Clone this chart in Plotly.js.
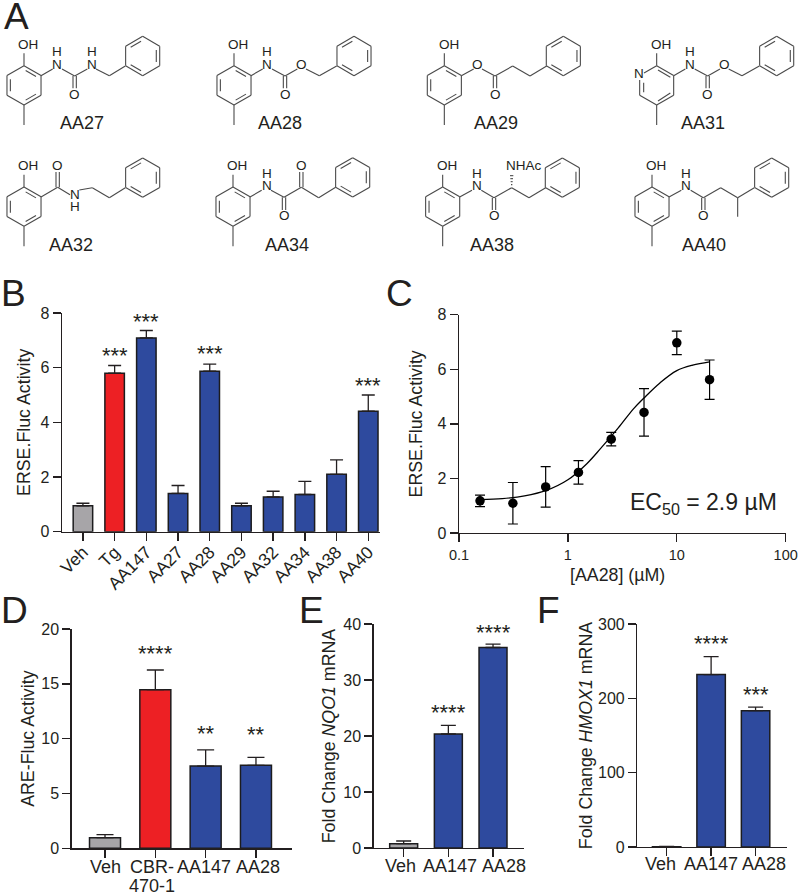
<!DOCTYPE html>
<html><head><meta charset="utf-8">
<script src="https://cdn.plot.ly/plotly-3.0.1.min.js"></script>
<style>html,body{margin:0;padding:0;background:#fff}</style>
</head><body><div id="chart" style="width:800px;height:896px"></div>
<script>
// ---------- chart data ----------
const bCategories = ['Veh','Tg','AA147','AA27','AA28','AA29','AA32','AA34','AA38','AA40'];
const bValues = [0.95,5.8,7.09,1.4,5.87,0.95,1.27,1.36,2.1,4.41];
const bErrors = [0.09,0.28,0.27,0.29,0.26,0.09,0.21,0.48,0.53,0.59];
const bStars = [[1,'***',6.54],[2,'***',7.81],[4,'***',6.62],[9,'***',5.46]];

const cConc = [0.156,0.3125,0.625,1.25,2.5,5,10,20];
const cValues = [1.18,1.09,1.69,2.22,3.44,4.42,6.97,5.62];
const cErrors = [0.21,0.76,0.74,0.43,0.25,0.87,0.43,0.72];
const cFitConc = [0.156,0.25,0.4,0.625,1,1.5,2,2.9,4,5,7,10,14,20];
const cFitValues = [1.22,1.26,1.36,1.55,1.95,2.55,3.1,3.85,4.55,4.95,5.5,5.95,6.15,6.27];

const dCategories = ['Veh','CBR-470-1','AA147','AA28'];
const dLabels = ['Veh','CBR-','AA147','AA28'];
const dLabelOffsets = [0,-3.7,-1.7,1.7];
const dValues = [0.97,14.47,7.5,7.57];
const dErrors = [0.28,1.79,1.47,0.73];
const dStars = [[1,'****',18.0],[2,'**',10.73],[3,'**',10.64]];

const eCategories = ['Veh','AA147','AA28'];
const eValues = [0.77,20.36,35.8];
const eErrors = [0.48,1.54,0.6];
const eStars = [[1,'****',24.76],[2,'****',39.1]];
const eLabelOffsets = [-3,1.7,11];

const fCategories = ['Veh','AA147','AA28'];
const fValues = [0.5,232,183.4];
const fErrors = [0.4,24,4.9];
const fStars = [[1,'****',278],[2,'***',209]];
const fLabelOffsets = [-5.7,0,8.3];

const GRAY='#a7a5a8', RED='#ed2024', BLUE='#2e4a9e', INK='#231f20';
const FONT='"Liberation Sans", Arial, sans-serif';
const W=800, H=896;
const fx=p=>p/W, fy=p=>1-p/H;

// ---------- chemical structures (drawing units: 3 per pixel, local to each molecule) ----------
const atoms27=[['N',172,193],['H',172,155],['O',224,282],['N',275,193],['H',275,155]];
const bonds27=[[123,227,158,207],[186,207,224,228],[219,228,219,265],[229,228,229,265],[224,228,262,207],[288,207,328,227],[328,227,376,198]];
const atoms28=[['N',172,193],['H',172,155],['O',225,282],['O',275,193]];
const bonds28=[[123,227,158,207],[186,207,225,228],[220,228,220,265],[230,228,230,265],[225,228,262,207],[288,207,328,227],[328,227,380,198]];
const atoms29=[['O',172,193],['O',224,282]];
const bonds29=[[123,227,160,207],[185,207,224,228],[219,228,219,265],[229,228,229,265],[224,228,277,198],[277,198,329,228],[329,228,379,198]];
const atoms32=[['O',173,133],['N',224,219],['H',224,256]];
const bonds32=[[123,227,173,198],[168,198,168,152],[178,198,178,152],[173,198,210,220],[238,206,277,199],[277,199,328,229],[328,229,376,199]];
const atoms34=[['N',173,191],['H',173,156],['O',225,283],['O',276,133]];
const bonds34=[[123,227,158,207],[186,207,225,228],[220,228,220,266],[230,228,230,266],[225,228,277,198],[272,198,272,152],[282,198,282,152],[277,198,329,229],[329,229,380,198]];
const atoms38=[['N',174,191],['H',174,156],['O',226,283],['NHAc',316,133]];
const bonds38=[[123,227,160,207],[188,207,226,229],[221,229,221,266],[231,229,231,266],[226,229,279,199],[279,199,331,229],[331,229,381,199],
  [277,190,281,190],[276,181,282,181],[275,172,283,172],[274,163,284,163]];
const atoms40=[['N',174,191],['H',174,156],['O',226,283]];
const bonds40=[[123,227,160,207],[188,207,226,229],[221,229,221,266],[231,229,231,266],[226,229,278,199],[278,199,329,229],[329,229,329,286],[329,229,379,199]];
const pyridineBonds=[[72,197,123,226.5],[123,226.5,123,285.5],[123,285.5,72,315],[72,315,21,285.5],[21,285.5,21,240],[34,219,72,197],
  [76,210,113,232],[113,279,76,303],[33,248,33,277]];

const molecules=[
 {name:'AA27',dx:0,dy:0,atoms:atoms27,bonds:bonds27,ph:[428,168],lab:[245,370]},
 {name:'AA28',dx:630,dy:0,atoms:atoms28,bonds:bonds28,ph:[432,168],lab:[840,370]},
 {name:'AA29',dx:1261,dy:0,atoms:atoms29,bonds:bonds29,ph:[429,168],lab:[1488,370]},
 {name:'AA31',dx:1898,dy:0,atoms:atoms28,bonds:bonds28,ph:[432,168],lab:[2110,370],pyr:true},
 {name:'AA32',dx:0,dy:364,atoms:atoms32,bonds:bonds32,ph:[428,169],lab:[213,735]},
 {name:'AA34',dx:627,dy:364,atoms:atoms34,bonds:bonds34,ph:[431,168],lab:[862,735]},
 {name:'AA38',dx:1256,dy:364,atoms:atoms38,bonds:bonds38,ph:[431,169],lab:[1475,735]},
 {name:'AA40',dx:1884,dy:364,atoms:atoms40,bonds:bonds40,ph:[431,169],lab:[2112,735]}
];
const molX=[], molY=[], annotations=[];
function seg(m,a,b,c,d){molX.push((a+m.dx)/3,(c+m.dx)/3,null);molY.push((b+m.dy)/3,(d+m.dy)/3,null);}
function ring(m,cx,cy,dbl){
  const R=59, v=[];
  for(let i=0;i<6;i++){const t=Math.PI/3*i; v.push([cx+R*Math.sin(t),cy-R*Math.cos(t)]);}
  for(let i=0;i<6;i++){
    const p=v[i], q=v[(i+1)%6];
    seg(m,p[0],p[1],q[0],q[1]);
    if(dbl.includes(i)){
      const a=[cx+(p[0]-cx)*.8,cy+(p[1]-cy)*.8], b=[cx+(q[0]-cx)*.8,cy+(q[1]-cy)*.8];
      const k=.12;
      seg(m,a[0]+(b[0]-a[0])*k,a[1]+(b[1]-a[1])*k,b[0]-(b[0]-a[0])*k,b[1]-(b[1]-a[1])*k);
    }
  }
}
function txt(text,px,py,size,opts){
  annotations.push(Object.assign({xref:'paper',yref:'paper',x:fx(px),y:fy(py),text:text,showarrow:false,
    xanchor:'center',yanchor:'middle',font:{family:FONT,size:size,color:INK}},opts||{}));
}
molecules.forEach(m=>{
  if(m.pyr){ pyridineBonds.forEach(b=>seg(m,b[0],b[1],b[2],b[3])); txt('N',(20+m.dx)/3,(222+m.dy)/3,13.5); }
  else ring(m,72,256,[0,2,4]);
  seg(m,72,197,72,160);       // OH
  seg(m,72,315,72,375);       // CH3
  txt('OH',(85+m.dx)/3,(133+m.dy)/3,13.5);
  m.bonds.forEach(b=>seg(m,b[0],b[1],b[2],b[3]));
  m.atoms.forEach(a=>txt(a[0],(a[1]+m.dx)/3,(a[2]+m.dy)/3,13.5));
  ring(m,m.ph[0],m.ph[1],[1,3,5]);
  txt(m.name,m.lab[0]/3,m.lab[1]/3,18);
});

// panel letters
[['A',16,16],['B',13,293],['C',399,293],['D',14,610],['E',311,610],['F',548,610]].forEach(l=>txt(l[0],l[1],l[2],37));
// EC50 and the C x-axis title, which sits left of the axis centre
txt('EC<sub>50</sub> = 2.9 µM',703,503,23);
txt('[AA28] (µM)',617,575,17.8);

function stars(list,xa,ya){
  list.forEach(s=>annotations.push({xref:xa,yref:ya,x:s[0],y:s[2],text:s[1],showarrow:false,xanchor:'center',yanchor:'middle',yshift:-3,
    font:{family:FONT,size:22,color:INK}}));
}
stars(bStars,'x','y'); stars(dStars,'x3','y3'); stars(eStars,'x4','y4'); stars(fStars,'x5','y5');

// category labels of D, E and F sit a little off their ticks in the figure
function catLabels(cats,offsets,xa,py){
  cats.forEach((c,i)=>annotations.push({xref:xa,yref:'paper',x:i,y:fy(py),text:c,showarrow:false,xanchor:'center',yanchor:'middle',xshift:offsets[i],
    font:{family:FONT,size:18,color:INK}}));
}
catLabels(dLabels,dLabelOffsets,'x3',867);
annotations.push({xref:'x3',yref:'paper',x:1,y:fy(886),text:'470-1',showarrow:false,xanchor:'center',yanchor:'middle',xshift:-3.7,font:{family:FONT,size:18,color:INK}});
catLabels(eCategories,eLabelOffsets,'x4',866);
catLabels(fCategories,fLabelOffsets,'x5',864);

function barTrace(cats,vals,errs,cols,xa,ya,capw,bw){
  return {type:'bar',x:cats,y:vals,xaxis:xa,yaxis:ya,width:bw,cliponaxis:false,
    marker:{color:cols,line:{color:'#1c1c1e',width:1.5}},
    error_y:{type:'data',symmetric:false,array:errs,arrayminus:errs.map(()=>0),color:INK,thickness:1.3,width:capw},
    hoverinfo:'skip',showlegend:false};
}
const axBase={showgrid:false,zeroline:false,showline:true,linecolor:INK,linewidth:1.4,ticks:'outside',tickcolor:INK,tickwidth:1.4,ticklen:8,
  tickfont:{family:FONT,size:16,color:INK},automargin:false};
const tt=(t,s)=>({text:t,standoff:s,font:{family:FONT,size:17.8,color:INK}});

const traces=[
  barTrace(bCategories,bValues,bErrors,[GRAY,RED].concat(Array(8).fill(BLUE)),'x','y',6.5,0.615),
  {type:'scatter',mode:'lines',x:cFitConc,y:cFitValues,xaxis:'x2',yaxis:'y2',line:{color:'#000',width:1.3,shape:'spline',smoothing:1},showlegend:false,hoverinfo:'skip'},
  {type:'scatter',mode:'markers',x:cConc,y:cValues,xaxis:'x2',yaxis:'y2',marker:{color:'#000',size:9.5},
    error_y:{type:'data',array:cErrors,color:'#000',thickness:1.2,width:5},showlegend:false,hoverinfo:'skip',cliponaxis:false},
  barTrace(dCategories,dValues,dErrors,[GRAY,RED,BLUE,BLUE],'x3','y3',8.5,0.616),
  barTrace(eCategories,eValues,eErrors,[GRAY,BLUE,BLUE],'x4','y4',7.5,0.626),
  barTrace(fCategories,fValues,fErrors,[GRAY,BLUE,BLUE],'x5','y5',7.5,0.64),
  {type:'scatter',mode:'lines',x:molX,y:molY,xaxis:'x6',yaxis:'y6',line:{color:'#4a4a4a',width:1.1},connectgaps:false,showlegend:false,hoverinfo:'skip'}
];

const layout={
  width:W,height:H,margin:{l:0,r:0,t:0,b:0},paper_bgcolor:'#fff',plot_bgcolor:'rgba(0,0,0,0)',showlegend:false,
  font:{family:FONT,color:INK},
  annotations:annotations,
  xaxis:Object.assign({},axBase,{domain:[fx(62),fx(380)],anchor:'y',type:'category',categoryorder:'array',categoryarray:bCategories,range:[-0.66,9.37],tickangle:-45,tickfont:{family:FONT,size:17.5,color:INK},ticklabelstandoff:-6}),
  yaxis:Object.assign({},axBase,{domain:[fy(531.7),fy(313)],anchor:'x',range:[0,8],tickvals:[0,2,4,6,8],title:tt('ERSE.Fluc Activity',5)}),
  xaxis2:Object.assign({},axBase,{domain:[fx(459),fx(785.7)],anchor:'y2',type:'log',range:[-1,2],tickmode:'array',tickvals:[0.1,1,10,100],ticktext:['0.1','1','10','100'],tickfont:{family:FONT,size:14.5,color:INK}}),
  yaxis2:Object.assign({},axBase,{domain:[fy(533),fy(314.7)],anchor:'x2',range:[0,8],tickvals:[0,2,4,6,8],title:tt('ERSE.Fluc Activity',10)}),
  xaxis3:Object.assign({},axBase,{domain:[fx(71.7),fx(291.7)],anchor:'y3',type:'category',categoryorder:'array',categoryarray:dCategories,showticklabels:false,range:[-0.662,3.71],tickmode:'array',tickvals:dCategories}),
  yaxis3:Object.assign({},axBase,{domain:[fy(848.3),fy(629)],anchor:'x3',range:[0,20],tickvals:[0,5,10,15,20],title:tt('ARE-Fluc Activity',2)}),
  xaxis4:Object.assign({},axBase,{domain:[fx(373.7),fx(524.3)],anchor:'y4',type:'category',categoryorder:'array',categoryarray:eCategories,showticklabels:false,range:[-0.671,2.7],tickmode:'array',tickvals:eCategories}),
  yaxis4:Object.assign({},axBase,{domain:[fy(848),fy(624)],anchor:'x4',range:[0,40],tickvals:[0,10,20,30,40],title:tt('Fold Change <i>NQO1</i> mRNA',3)}),
  xaxis5:Object.assign({},axBase,{domain:[fx(637.3),fx(786.7)],anchor:'y5',type:'category',categoryorder:'array',categoryarray:fCategories,showticklabels:false,range:[-0.66,2.7],tickmode:'array',tickvals:fCategories}),
  yaxis5:Object.assign({},axBase,{domain:[fy(847),fy(624)],anchor:'x5',range:[0,300],tickvals:[0,100,200,300],title:tt('Fold Change <i>HMOX1</i> mRNA',0)}),
  xaxis6:{domain:[0,1],range:[0,800],visible:false,fixedrange:true,anchor:'y6'},
  yaxis6:{domain:[0,1],range:[896,0],visible:false,fixedrange:true,anchor:'x6'}
};
Plotly.newPlot('chart',traces,layout,{displayModeBar:false,staticPlot:true});
</script></body></html>
